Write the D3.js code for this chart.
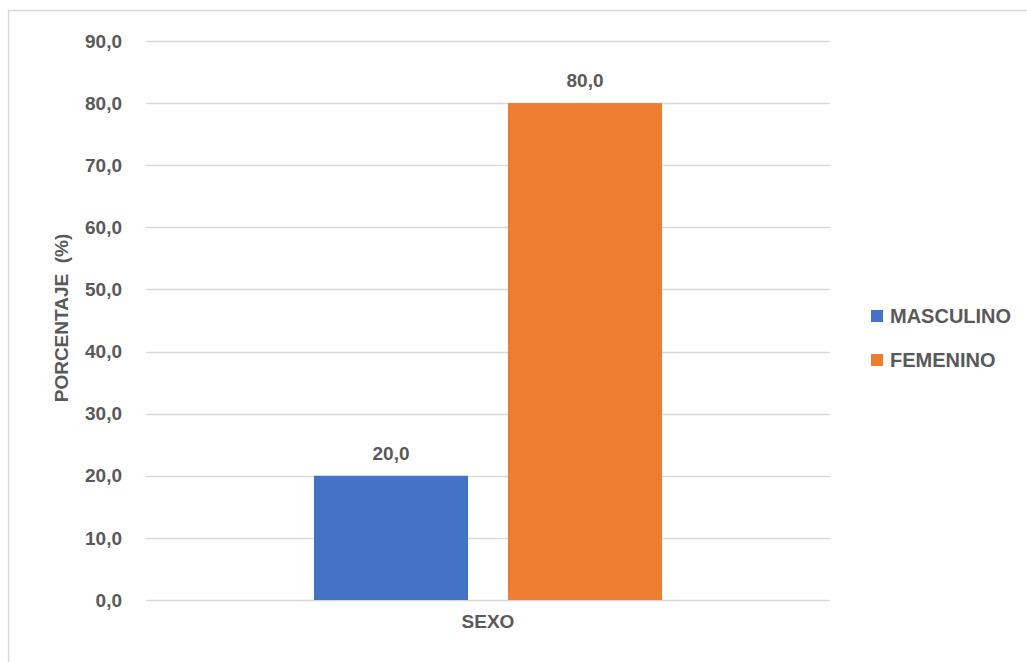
<!DOCTYPE html>
<html>
<head>
<meta charset="utf-8">
<script src="https://cdn.jsdelivr.net/npm/d3@7"></script>
<style>
  body { margin: 0; background: #fff; }
  text { font-family: "Liberation Sans", Arial, sans-serif; font-weight: bold; fill: #595959; white-space: pre; }
</style>
</head>
<body>
<div id="chart"></div>
<script>
const width = 1027;
const height = 662;

// data
var category = "SEXO";
var series = ["MASCULINO", "FEMENINO"];
var values = [20.0, 80.0];
var colors = ["#4472C4", "#ED7D31"];
var yTicks = [0, 10, 20, 30, 40, 50, 60, 70, 80, 90];

const fmt = v => v.toFixed(1).replace(".", ",");

var svg = d3.select("#chart").append("svg")
  .attr("width", width)
  .attr("height", height);

// chart frame (only top and left edges show)
svg.append("path")
  .attr("d", "M8.5," + height + " V10.5 H" + width)
  .attr("fill", "none")
  .attr("stroke", "#d9d9d9")
  .attr("stroke-width", 1.5);

// scales
var xScale = d3.scaleBand().domain([category]).range([146, 830]);
var inner = d3.scaleBand().domain(series)
  .range([0, xScale.bandwidth()])
  .paddingInner(0.206)
  .paddingOuter(0.866);
var yScale = d3.scaleLinear().domain([0, 90]).range([600, 41]);

// gridlines
svg.append("g").selectAll("line")
  .data(yTicks)
  .enter().append("line")
  .attr("x1", 146).attr("x2", 830)
  .attr("y1", d => Math.round(yScale(d)) + 0.5)
  .attr("y2", d => Math.round(yScale(d)) + 0.5)
  .attr("stroke", "#d9d9d9")
  .attr("stroke-width", 1.3);

// y tick labels
svg.append("g").selectAll("text")
  .data(yTicks)
  .enter().append("text")
  .attr("x", 122)
  .attr("y", d => yScale(d))
  .attr("dy", "0.35em")
  .attr("text-anchor", "end")
  .style("font-size", "19px")
  .text(d => fmt(d));

// bars
var x0 = xScale(category);
svg.append("g").selectAll("rect")
  .data(values)
  .enter().append("rect")
  .attr("x", (d, i) => x0 + inner(series[i]))
  .attr("y", d => yScale(d))
  .attr("width", inner.bandwidth())
  .attr("height", d => yScale(0) - yScale(d))
  .attr("fill", (d, i) => colors[i]);

// value labels
svg.append("g").selectAll("text")
  .data(values)
  .enter().append("text")
  .attr("x", (d, i) => x0 + inner(series[i]) + inner.bandwidth() / 2)
  .attr("y", d => yScale(d) - 16)
  .attr("text-anchor", "middle")
  .style("font-size", "19px")
  .text(d => fmt(d));

// x category label
svg.append("text")
  .attr("x", x0 + xScale.bandwidth() / 2)
  .attr("y", 628)
  .attr("text-anchor", "middle")
  .style("font-size", "19px")
  .text(category);

// y title
svg.append("text")
  .attr("transform", "translate(68,318) rotate(-90)")
  .attr("text-anchor", "middle")
  .style("font-size", "19px")
  .text("PORCENTAJE  (%)");

// legend
var legend = svg.append("g").selectAll("g")
  .data(series)
  .enter().append("g")
  .attr("transform", (d, i) => "translate(871," + (316 + i * 44) + ")");
legend.append("rect")
  .attr("x", 0).attr("y", -6)
  .attr("width", 12).attr("height", 12)
  .attr("fill", (d, i) => colors[i]);
legend.append("text")
  .attr("x", 19)
  .attr("dy", "0.35em")
  .style("font-size", "20px")
  .text(d => d);
</script>
</body>
</html>
